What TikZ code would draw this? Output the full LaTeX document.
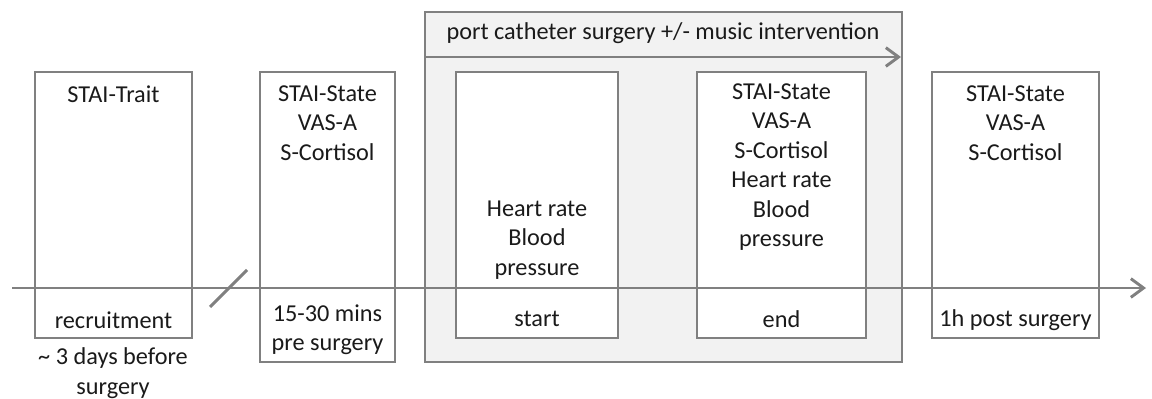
\documentclass[tikz,border=0pt]{standalone}
\usepackage{fontspec}
\setmainfont{Carlito}
\usetikzlibrary{arrows.meta,fit}
\definecolor{lgray}{HTML}{808080}
\definecolor{bgfill}{HTML}{F2F2F2}
\definecolor{txt}{HTML}{1A1A1A}
\begin{document}
\begin{tikzpicture}[x=0.75pt,y=-0.75pt,
  box/.style={draw=lgray, line width=1.5pt, fill=white, inner sep=0pt},
  group/.style={draw=lgray, line width=1.5pt, fill=bgfill, inner sep=0pt},
  lbl/.style={align=center, font=\fontsize{18.2}{22.1}\selectfont, text=txt, inner sep=0pt},
  tline/.style={draw=lgray, line width=2.2pt, -{Straight Barb[length=9.5pt,width=14pt]}},
  slash/.style={draw=lgray, line width=2.2pt}]
\useasboundingbox (0,0) rectangle (1152,399);
% group box
\node[group, fit={(425,12) (902,362)}] (grp) {};
% boxes
\node[box, fit={(35,72) (192,338)}] (b1) {};
\node[box, fit={(260,72) (395,362)}] (b2) {};
\node[box, fit={(456,72) (618,338)}] (b3) {};
\node[box, fit={(697,72) (866,338)}] (b4) {};
\node[box, fit={(932,72) (1099,338)}] (b5) {};
% timeline
\coordinate (tl0) at (12,288);
\coordinate (tl1) at (1146,288);
\draw[tline] (tl0) -- (tl1);
\coordinate (s0) at (210,307);
\coordinate (s1) at (247,270);
\draw[slash] (s0) -- (s1);
% header arrow
\coordinate (h0) at (grp.west |- 0,57);
\coordinate (h1) at (901,57);
\draw[tline] (h0) -- (h1);
% labels
\node[lbl] (hdr) at (663,33) {port catheter surgery +/- music intervention};
\node[lbl] (t1) at (113.5,94) {STAI-Trait};
\node[lbl] (t1b) at (113.5,320) {recruitment};
\node[lbl] (t1c) at (113,373) {\textasciitilde{} 3 days before\\surgery};
\node[lbl] (t2) at (327.5,123) {STAI-State\\VAS-A\\S-Cortisol};
\node[lbl] (t2b) at (327.5,330) {15-30 mins\\pre surgery};
\node[lbl] (t3) at (537,240) {Heart rate\\Blood\\pressure};
\node[lbl] (t3b) at (537,319) {start};
\node[lbl] (t4) at (781.5,167) {STAI-State\\VAS-A\\S-Cortisol\\Heart rate\\Blood\\pressure};
\node[lbl] (t4b) at (781.5,319) {end};
\node[lbl] (t5) at (1015.5,123) {STAI-State\\VAS-A\\S-Cortisol};
\node[lbl] (t5b) at (1015.5,320) {1h post surgery};
\end{tikzpicture}
\end{document}
